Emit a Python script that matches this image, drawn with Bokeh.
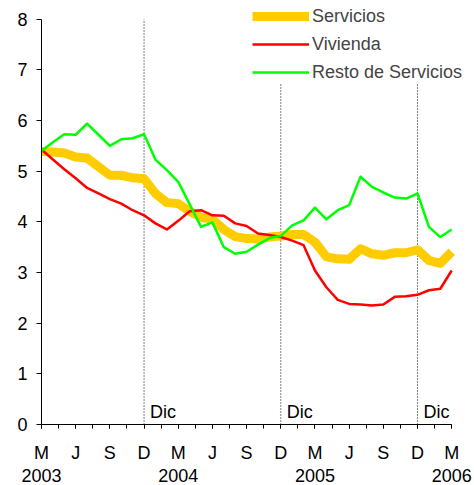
from bokeh.plotting import figure
from bokeh.models import Range1d, FixedTicker, LinearAxis, Label, Legend, LegendItem
from bokeh.embed import file_html
from bokeh.resources import INLINE

# ---- data (monthly, Mar 2003 .. Mar 2006) ----
months = list(range(37))
servicios = [5.39, 5.38, 5.36, 5.28, 5.26, 5.09, 4.92, 4.92, 4.87, 4.85,
             4.56, 4.38, 4.36, 4.21, 4.09, 4.05, 3.85, 3.71, 3.67, 3.66,
             3.70, 3.72, 3.75, 3.75, 3.60, 3.31, 3.27, 3.26, 3.47, 3.37,
             3.34, 3.39, 3.39, 3.45, 3.24, 3.18, 3.41]
vivienda = [5.43, 5.23, 5.04, 4.86, 4.67, 4.56, 4.45, 4.36, 4.23, 4.13,
            3.97, 3.85, 4.02, 4.21, 4.23, 4.13, 4.12, 3.97, 3.92, 3.77,
            3.74, 3.70, 3.63, 3.54, 3.04, 2.71, 2.46, 2.38, 2.37, 2.35,
            2.37, 2.52, 2.53, 2.56, 2.65, 2.68, 3.04]
resto = [5.40, 5.57, 5.73, 5.72, 5.94, 5.72, 5.50, 5.63, 5.65, 5.73,
         5.23, 5.02, 4.79, 4.35, 3.90, 3.99, 3.50, 3.37, 3.41, 3.55,
         3.68, 3.72, 3.93, 4.03, 4.28, 4.05, 4.23, 4.33, 4.89, 4.69,
         4.58, 4.48, 4.46, 4.56, 3.90, 3.70, 3.85]

series_names = ["Servicios", "Vivienda", "Resto de Servicios"]
month_ticks = list(range(0, 37, 3))
month_labels = ["M", "J", "S", "D"] * 4 + ["M"]
minor_ticks = [i * 1.5 for i in range(25)]
year_ticks = [0, 12, 24, 36]
year_labels = ["2003", "2004", "2005", "2006"]
dec_marks = [9, 21, 33]
dec_label = "Dic"
y_ticks = list(range(9))

FONT = "Liberation Sans"
FS = "18px"

# ranges extend slightly beyond the data/axes so the legend (which sits
# above/right of the axes in the original) is not clipped by the frame
p = figure(width=474, height=485, output_backend="svg", toolbar_location=None,
           x_range=Range1d(0, 38), y_range=Range1d(0, 8.35),
           min_border_left=41, min_border_right=0, min_border_top=1,
           min_border_bottom=61)
p.outline_line_color = None
p.grid.visible = False
p.background_fill_color = "white"

# y axis
ya = p.yaxis[0]
ya.ticker = FixedTicker(ticks=y_ticks, minor_ticks=[])
ya.bounds = (min(y_ticks), max(y_ticks))
ya.major_tick_out = 5
ya.major_tick_in = 0
ya.minor_tick_out = 0
ya.major_label_standoff = 9
ya.major_label_text_font = FONT
ya.major_label_text_font_size = FS
ya.major_label_text_color = "black"
ya.axis_line_color = "black"
ya.major_tick_line_color = "black"

# x axis (months)
xa = p.xaxis[0]
xa.ticker = FixedTicker(ticks=month_ticks, minor_ticks=minor_ticks)
xa.bounds = (min(months), max(months))
xa.major_label_overrides = {t: l for t, l in zip(month_ticks, month_labels)}
xa.major_tick_out = 4
xa.major_tick_in = 0
xa.minor_tick_out = 4
xa.minor_tick_in = 0
xa.major_label_standoff = 14
xa.major_label_text_font = FONT
xa.major_label_text_font_size = FS
xa.major_label_text_color = "black"
xa.axis_line_color = "black"
xa.major_tick_line_color = "black"
xa.minor_tick_line_color = "black"

# year axis
yr = LinearAxis(ticker=FixedTicker(ticks=year_ticks, minor_ticks=[]),
                major_label_overrides={t: l for t, l in zip(year_ticks, year_labels)},
                axis_line_color=None, major_tick_line_color=None,
                minor_tick_line_color=None, major_tick_out=0, major_tick_in=0,
                major_label_standoff=3, major_label_text_font=FONT,
                major_label_text_font_size=FS, major_label_text_color="black")
p.add_layout(yr, "below")

# december markers (dotted verticals from 0 to top tick)
p.segment(x0=dec_marks, y0=[min(y_ticks)] * len(dec_marks),
          x1=dec_marks, y1=[max(y_ticks)] * len(dec_marks),
          line_color="black", line_dash="1 2", line_width=1)
for d in dec_marks:
    p.add_layout(Label(x=d, y=0.25, text=dec_label, x_offset=6,
                       text_font=FONT, text_font_size=FS,
                       text_baseline="alphabetic", text_color="black"))

# lines
r1 = p.line(months, servicios, line_color="#FFCC00", line_width=9, line_join="round")
r2 = p.line(months, vivienda, line_color="#FF0000", line_width=2.5, line_join="round")
r3 = p.line(months, resto, line_color="#00FF00", line_width=2.5, line_join="round")

legend = Legend(items=[LegendItem(label=n, renderers=[r])
                       for n, r in zip(series_names, [r1, r2, r3])],
                location=(211, 341), glyph_width=57, glyph_height=22,
                label_height=22, spacing=6, padding=3, margin=0,
                label_standoff=3, label_text_font=FONT,
                label_text_font_size=FS, border_line_color=None,
                background_fill_color="white", background_fill_alpha=1.0)
p.add_layout(legend, "center")

open("out.html", "w").write(file_html(p, INLINE))
